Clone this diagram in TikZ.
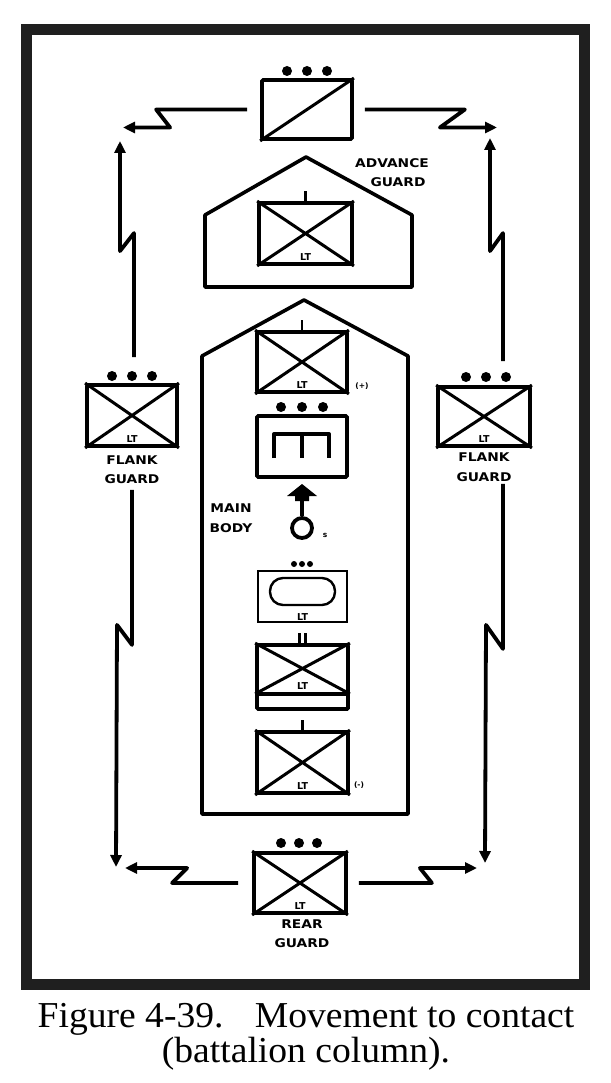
\documentclass[tikz,border=0pt]{standalone}
\usepackage{fontspec}
\setmainfont{Liberation Serif}
\newfontfamily\labfont{DejaVu Sans}
\usetikzlibrary{arrows.meta}
\newcommand\labw[1]{\scalebox{1.15}[1]{#1}}
\newcommand\capw[1]{\scalebox{1.03}[1]{#1}}
\tikzset{
  ubox/.style={draw, line width=3.8pt, inner sep=0pt, rounded corners=1.2pt},
  xl/.style={line width=3pt},
  conn/.style={line width=3.8pt, line join=round},
  arr/.style={-{Triangle[length=12pt,width=11pt]}},
  udot/.style={fill, circle, inner sep=0pt, minimum size=10pt},
  sdot/.style={fill, circle, inner sep=0pt, minimum size=6pt},
  lab/.style={font=\labfont\bfseries\fontsize{12}{12}\selectfont, inner sep=0pt},
  ltlab/.style={font=\labfont\bfseries\fontsize{9.5}{9.5}\selectfont, inner sep=0pt, anchor=south},
  tinylab/.style={font=\labfont\bfseries\fontsize{7.5}{7.5}\selectfont, inner sep=0pt},
  ticker/.style={line width=2.8pt},
  pent/.style={line width=3.6pt, line join=round},
  capt/.style={font=\fontsize{36.5}{40}\selectfont, inner sep=0pt, anchor=base},
}
\begin{document}
\begin{tikzpicture}[x=1pt,y=-1pt]
\useasboundingbox (0,0) rectangle (610,1083);
\fill[white] (0,0) rectangle (610,1083);
% frame
\draw[line width=11pt, black!88] (26,29.5) rectangle (584,984.5);

% cavalry screen
\node[ubox, minimum width=90pt, minimum height=59pt] (cav) at (307,109.5) {};
\draw[xl] (cav.south west) -- (cav.north east);
\node[udot] (cavd1) at (287,71) {};
\node[udot] (cavd2) at (307,71) {};
\node[udot] (cavd3) at (327,71) {};
\coordinate (tipTL) at (123,127.5);
\coordinate (tipTR) at (497,127.5);
\draw[conn,arr] ([xshift=-13pt]cav.west) -- ++(-91,0) -- ++(14,18) -- (tipTL);
\draw[conn,arr] ([xshift=11pt]cav.east) -- ++(100,0) -- ++(-25,18) -- (tipTR);

% advance guard
\draw[pent] (205,287) -- (205,215) -- (306,157) -- (412,215) -- (412,287) -- cycle;
\node[ubox, minimum width=93pt, minimum height=61pt] (adv) at (305.5,233.5) {};
\draw[xl] (adv.south west) -- (adv.north east) (adv.north west) -- (adv.south east);
\draw[ticker] (adv.north) -- ++(0,-10);
\node[ltlab] (advlt) at ([yshift=5pt]adv.south) {LT};
\node[lab] (advl1) at (392,163) {\labw{ADVANCE}};
\node[lab] (advl2) at (398,182) {\labw{GUARD}};

% main body
\draw[pent] (202,814) -- (202,356) -- (304,300) -- (408,356) -- (408,814) -- cycle;
\node[lab] (mbl1) at (231,508) {\labw{MAIN}};
\node[lab] (mbl2) at (231,528) {\labw{BODY}};

% box 1
\node[ubox, minimum width=90pt, minimum height=60pt] (mb1) at (302,362) {};
\draw[xl] (mb1.south west) -- (mb1.north east) (mb1.north west) -- (mb1.south east);
\draw[ticker] (mb1.north) -- ++(0,-10);
\node[ltlab] (mb1lt) at ([yshift=5pt]mb1.south) {LT};
\node[tinylab] (mb1s) at (362,386) {(+)};

% box 2 engineers
\node[ubox, minimum width=90pt, minimum height=61pt] (mb2) at (302,446.5) {};
\node[udot] (mb2d1) at (281,407) {};
\node[udot] (mb2d2) at (302,407) {};
\node[udot] (mb2d3) at (323,407) {};
\draw[line width=4pt, line join=round] (274,458) -- (274,434) -- (329,434) -- (329,458) (301.5,434) -- (301.5,458);

% command symbol
\node[draw, circle, line width=3.8pt, minimum size=20pt, inner sep=0pt] (cp) at (302,528) {};
\fill (302,484) -- (317,496) -- (309,496) -- (309,501) -- (295,501) -- (295,496) -- (287,496) -- cycle;
\coordinate (cptop) at (302,499);
\draw[line width=3.6pt] (cp.north) -- (cptop);
\node[tinylab] (cps) at (325,535) {s};

% box 3 armor
\node[draw, line width=2.2pt, minimum width=89pt, minimum height=51pt, inner sep=0pt] (mb3) at (302.5,596.5) {};
\node[draw, line width=2.4pt, rounded corners=13pt, minimum width=65pt, minimum height=27pt, inner sep=0pt] (mb3o) at (302.5,591.5) {};
\node[sdot] (mb3d1) at (294,564) {};
\node[sdot] (mb3d2) at (302,564) {};
\node[sdot] (mb3d3) at (310,564) {};
\node[ltlab] (mb3lt) at ([yshift=2pt]mb3.south) {LT};

% box 4
\node[ubox, minimum width=91pt, minimum height=64pt] (mb4) at (302.5,677) {};
\draw[line width=3.2pt] ([yshift=17pt]mb4.south west) -- ([yshift=17pt]mb4.south east);
\draw[xl] (mb4.north west) -- ([yshift=17pt]mb4.south east) (mb4.north east) -- ([yshift=17pt]mb4.south west);
\draw[ticker] ([xshift=-3pt]mb4.north) -- ++(0,-10) ([xshift=3pt]mb4.north) -- ++(0,-10);
\node[ltlab] (mb4lt) at ([yshift=21pt]mb4.south) {LT};

% box 5
\node[ubox, minimum width=91pt, minimum height=61pt] (mb5) at (302.5,762.5) {};
\draw[xl] (mb5.south west) -- (mb5.north east) (mb5.north west) -- (mb5.south east);
\draw[ticker] (mb5.north) -- ++(0,-10);
\node[ltlab] (mb5lt) at ([yshift=5pt]mb5.south) {LT};
\node[tinylab] (mb5s) at (359,785) {(-)};

% left flank guard
\node[ubox, minimum width=90pt, minimum height=61pt] (lfl) at (132,415.5) {};
\draw[xl] (lfl.south west) -- (lfl.north east) (lfl.north west) -- (lfl.south east);
\node[ltlab] (lfllt) at ([yshift=5pt]lfl.south) {LT};
\node[udot] (lfld1) at (112,376) {};
\node[udot] (lfld2) at (132,376) {};
\node[udot] (lfld3) at (152,376) {};
\node[lab] (lfll1) at (132,460) {\labw{FLANK}};
\node[lab] (lfll2) at (132,479) {\labw{GUARD}};
\coordinate (tipL1) at (120,141);
\coordinate (tipL2) at (116,867);
\draw[conn,arr] ([xshift=2pt,yshift=26pt]lfl.north) -- ++(0,-124) -- ++(-14,18) -- (tipL1);
\draw[conn,arr] ([yshift=-42pt]lfl.south) -- ++(0,155) -- ++(-15,-20) -- (tipL2);

% right flank guard
\node[ubox, minimum width=92pt, minimum height=59pt] (rfl) at (484,416.5) {};
\draw[xl] (rfl.south west) -- (rfl.north east) (rfl.north west) -- (rfl.south east);
\node[ltlab] (rfllt) at ([yshift=5pt]rfl.south) {LT};
\node[udot] (rfld1) at (466,377) {};
\node[udot] (rfld2) at (486,377) {};
\node[udot] (rfld3) at (506,377) {};
\node[lab] (rfll1) at (484,457) {\labw{FLANK}};
\node[lab] (rfll2) at (484,477) {\labw{GUARD}};
\coordinate (tipR1) at (490,138);
\coordinate (tipR2) at (485,863);
\draw[conn,arr] ([xshift=19pt,yshift=24pt]rfl.north) -- ++(0,-128) -- ++(-13,18) -- (tipR1);
\draw[conn,arr] ([xshift=19pt,yshift=-36pt]rfl.south) -- ++(0,165) -- ++(-17,-24) -- (tipR2);

% rear guard
\node[ubox, minimum width=92pt, minimum height=60pt] (rear) at (300,883) {};
\draw[xl] (rear.south west) -- (rear.north east) (rear.north west) -- (rear.south east);
\node[ltlab] (rearlt) at ([yshift=5pt]rear.south) {LT};
\node[udot] (reard1) at (281,843) {};
\node[udot] (reard2) at (299,843) {};
\node[udot] (reard3) at (317,843) {};
\node[lab] (rearl1) at (302,924) {\labw{REAR}};
\node[lab] (rearl2) at (302,943) {\labw{GUARD}};
\coordinate (tipB1) at (125,868);
\coordinate (tipB2) at (477,868);
\draw[conn,arr] ([xshift=-14pt]rear.west) -- ++(-66,0) -- ++(15,-15) -- (tipB1);
\draw[conn,arr] ([xshift=11pt]rear.east) -- ++(73,0) -- ++(-12,-15) -- (tipB2);

% caption
\node[capt] (cap1) at (306,1027) {\capw{Figure 4-39.\hspace{0.5em} Movement to contact}};
\node[capt] (cap2) at (306,1062) {\capw{(battalion column).}};
\end{tikzpicture}
\end{document}
